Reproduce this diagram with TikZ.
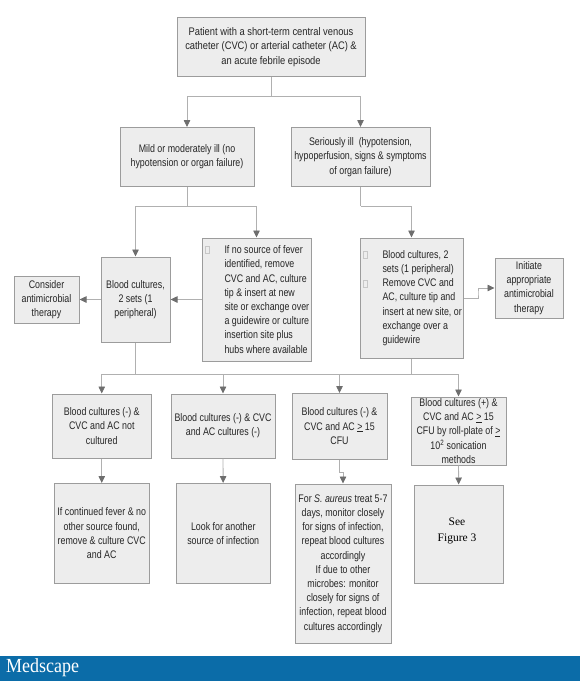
\documentclass[tikz,border=0pt]{standalone}
\usepackage{fontspec}
\setmainfont{Liberation Sans}[FakeStretch=0.805]
\newfontfamily\topfont{Liberation Sans}[FakeStretch=0.85]
\newfontfamily\figfont{Liberation Serif}
\newfontfamily\logofont{Liberation Serif}[FakeStretch=0.9]
\usetikzlibrary{arrows.meta}
\definecolor{boxfill}{HTML}{EDEDED}
\definecolor{boxline}{HTML}{9C9C9C}
\definecolor{connline}{HTML}{B0B0B0}
\definecolor{tipgray}{HTML}{6E6E6E}
\definecolor{bannerblue}{HTML}{0B6CA8}

\begin{document}
\begin{tikzpicture}[x=1pt,y=-1pt]
    % Define style for boxes and connectors
    \tikzstyle{cell} = [draw=boxline, line width=1pt, fill=boxfill, rectangle, inner sep=0pt, align=center, text=black!85, font=\fontsize{11}{14.2}\selectfont]
    \tikzstyle{conn} = [draw=connline, line width=.8pt, -{Triangle[length=7pt,width=6.5pt,color=tipgray]}]
    \tikzstyle{plain} = [draw=connline, line width=.8pt]
    \tikzstyle{hollow} = [draw=black!22, line width=.5pt, minimum width=4pt, minimum height=7pt, inner sep=0pt]

    \useasboundingbox (0,0) rectangle (580,681);

    % First boxes
    \node(top)[cell, minimum width=188pt, minimum height=59pt, font=\topfont\fontsize{11}{14.2}\selectfont] at (271,47) {Patient with a short-term central venous\\catheter (CVC) or arterial catheter (AC) \&\\an acute febrile episode};
    \node(mild)[cell, minimum width=134pt, minimum height=59pt] at (187,157) {Mild or moderately ill (no\\hypotension or organ failure)};
    \node(serious)[cell, minimum width=139pt, minimum height=59pt] at (360.5,157) {Seriously ill \ (hypotension,\\hypoperfusion, signs \& symptoms\\of organ failure)};

    % Second row
    \node(consider)[cell, minimum width=65pt, minimum height=47pt] at (46.5,299.5) {Consider\\antimicrobial\\therapy};
    \node(blood)[cell, minimum width=69pt, minimum height=85pt] at (135.5,299.5) {Blood cultures,\\2 sets (1\\peripheral)};
    \node(nosource)[cell, minimum width=109pt, minimum height=123pt] at (256.5,299.5) {};
    \node(nosourcetext)[cell, draw=none, fill=none, align=left, anchor=west] at (224,299.5) {If no source of fever\\identified, remove\\CVC and AC, culture\\tip \& insert at new\\site or exchange over\\a guidewire or culture\\insertion site plus\\hubs where available};
    \node(nosourcemark)[hollow] at (207,249.5) {};
    \node(remove)[cell, minimum width=103pt, minimum height=120pt] at (411.5,298) {};
    \node(removetext)[cell, draw=none, fill=none, align=left, anchor=west] at (382,298) {Blood cultures, 2\\sets (1 peripheral)\\Remove CVC and\\AC, culture tip and\\insert at new site, or\\exchange over a\\guidewire};
    \node(removemarka)[hollow] at (365,255) {};
    \node(removemarkb)[hollow] at (365,284) {};
    \node(initiate)[cell, minimum width=68pt, minimum height=60pt] at (529,288) {Initiate\\appropriate\\antimicrobial\\therapy};

    % Third and fourth rows
    \foreach \name/\cx/\cy/\bw/\bh/\txt in {
        bneg/101.75/426/99.5/64/{Blood cultures (-) \&\\CVC and AC not\\cultured},
        bcvc/223/426/104/64/{Blood cultures (-) \& CVC\\and AC cultures (-)},
        bcfu/339.5/426.25/95/65.5/{Blood cultures (-) \&\\CVC and AC \underline{>} 15\\CFU},
        bpos/458.5/431/95/68/{},
        fever/101.75/533.25/94.5/99.5/{If continued fever \& no\\other source found,\\remove \& culture CVC\\and AC},
        look/223.25/533.25/94.5/99.5/{Look for another\\source of infection},
        treat/343/563.5/96/159/{For \textit{S. aureus} treat 5-7\\days, monitor closely\\for signs of infection,\\repeat blood cultures\\accordingly\\If due to other\\microbes: monitor\\closely for signs of\\infection, repeat blood\\cultures accordingly},
        see/458.75/534/89.5/98/{}} {
        \node(\name)[cell, minimum width=\bw pt, minimum height=\bh pt] at (\cx,\cy) {\txt};
      }
    \node(bpostext)[cell, draw=none, fill=none] at (bpos) {Blood cultures (+) \&\\CVC and AC \underline{>} 15\\CFU by roll-plate of \underline{>}\\10\textsuperscript{2} sonication\\methods};
    \node(seetext)[cell, draw=none, fill=none, text=black, font=\figfont\fontsize{11.5}{16}\selectfont] at (457,531) {See\\Figure 3};

    % Connectors
    \coordinate (topjoin) at (271,96);
    \coordinate (mildjoin) at (187,206);
    \coordinate (seriousjoin) at (360.5,206);
    \coordinate (initbend) at (478,293);
    \coordinate (bloodjoin) at (135.5,374.5);
    \coordinate (removejoin) at (411.5,374.5);
    \coordinate (treatbend) at (343,472);

    \draw[plain] (top) -- (topjoin);
    \draw[conn] (topjoin) -| (mild);
    \draw[conn] (topjoin) -| (serious);
    \draw[plain] (mild) -- (mildjoin);
    \draw[conn] (mildjoin) -| (blood);
    \draw[conn] (mildjoin) -| (nosource);
    \draw[plain] (serious) -- (seriousjoin);
    \draw[conn] (seriousjoin) -| (remove);
    \draw[conn] (nosource) -- (blood);
    \draw[conn] (blood) -- (consider);
    \draw[conn] (remove) -| (initbend) |- (initiate);
    \draw[plain] (blood) -- (bloodjoin);
    \draw[plain] (remove) -- (removejoin);
    \draw[plain] (bloodjoin) -- (removejoin);
    \draw[conn] (bloodjoin) -| (bneg);
    \draw[conn] (removejoin) -| (bcvc);
    \draw[conn] (removejoin) -| (bcfu);
    \draw[conn] (removejoin) -| (bpos);
    \draw[conn] (bneg) -- (fever);
    \draw[conn] (bcvc) -- (look);
    \draw[conn] (bcfu) |- (treatbend) -- (treat);
    \draw[conn] (bpos) -- (see);

    % Banner
    \fill[bannerblue] (0,656) rectangle (580,681);
    \node(logo)[text=white, anchor=west, inner sep=0pt, font=\logofont\fontsize{20}{20}\selectfont] at (6,668) {Medscape};
  \end{tikzpicture}
\end{document}
